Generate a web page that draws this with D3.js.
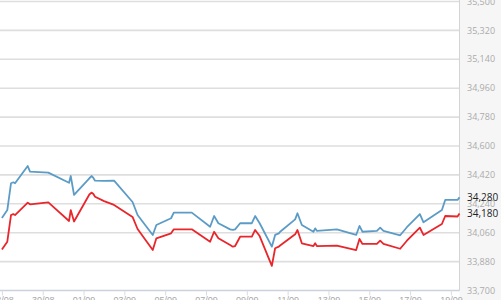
<!DOCTYPE html>
<html>
<head>
<meta charset="utf-8">
<script src="https://cdn.jsdelivr.net/npm/d3@7"></script>
<style>
  html, body { margin: 0; padding: 0; background: #fff; }
  svg { display: block; font-family: "Open Sans", sans-serif; }
</style>
</head>
<body>
<svg id="chart"></svg>
<script>
// time stamps (dd/mm HH:MM, 2015)
const times = [
  "28/08 00:00", "28/08 06:20", "28/08 10:42", "28/08 13:25", "28/08 15:25",
  "29/08 06:21", "29/08 09:04", "30/08 06:35", "31/08 06:56", "31/08 08:56",
  "31/08 12:49", "01/09 06:49", "01/09 09:38", "01/09 11:32", "01/09 13:32",
  "02/09 00:07", "02/09 11:53", "03/09 09:38", "03/09 15:32", "04/09 09:24",
  "04/09 13:38", "05/09 06:56", "05/09 10:07", "06/09 07:18", "07/09 04:50",
  "07/09 09:32", "07/09 14:35", "08/09 04:22", "08/09 07:32", "08/09 10:14",
  "08/09 16:07", "09/09 05:55", "09/09 09:48", "09/09 15:05", "10/09 05:25",
  "10/09 09:18", "10/09 13:38", "10/09 15:10", "11/09 08:50", "11/09 11:32",
  "11/09 16:42", "12/09 06:21", "12/09 08:21", "12/09 10:21", "13/09 09:56",
  "14/09 08:35", "14/09 12:28", "14/09 16:00", "15/09 08:56", "15/09 12:49",
  "15/09 16:42", "16/09 12:18", "16/09 20:14", "17/09 11:30", "17/09 15:46",
  "18/09 13:25", "18/09 17:18", "19/09 07:48", "19/09 10:06"
];

// upper (blue) series
const askValues = [
  34152, 34201, 34368, 34374, 34368,
  34475, 34440, 34434, 34371, 34413,
  34295, 34399, 34413, 34401, 34384,
  34383, 34384, 34251, 34170, 34046,
  34108, 34150, 34185, 34185, 34097,
  34164, 34119, 34081, 34077, 34081,
  34119, 34119, 34164, 34119, 33973,
  34046, 34056, 34066, 34143, 34181,
  34108, 34066, 34087, 34072, 34081,
  34046, 34102, 34066, 34071, 34091,
  34071, 34044, 34094, 34176, 34125,
  34201, 34264, 34264, 34280
];

// lower (red) series
const bidValues = [
  33955, 34004, 34170, 34176, 34170,
  34247, 34237, 34249, 34133, 34201,
  34130, 34298, 34310, 34301, 34284,
  34257, 34233, 34158, 34083, 33952,
  34025, 34056, 34081, 34081, 34004,
  34066, 34025, 33983, 33973, 33977,
  34035, 34035, 34077, 34039, 33853,
  33963, 33973, 33980, 34050, 34077,
  33994, 33977, 33994, 33977, 33980,
  33952, 34021, 33990, 33990, 34010,
  33990, 33960, 34010, 34091, 34046,
  34114, 34164, 34161, 34180
];

const yTicks = [33700, 33880, 34060, 34240, 34420, 34600, 34780, 34960, 35140, 35320, 35500];
const xTickLabels = ["28/08", "30/08", "01/09", "03/09", "05/09", "07/09", "09/09",
  "11/09", "13/09", "15/09", "17/09", "19/09"];

const width = 501, height = 300;
const plotRight = 459.5, plotTop = 1.5, plotBottom = 290.5;

const parseTime = d3.timeParse("%d/%m/%Y %H:%M");
const parseDay = d3.timeParse("%d/%m/%Y");
const fmt = d3.format(",");

const dates = times.map(t => {
  const [d, h] = t.split(" ");
  return parseTime(d + "/2015 " + h);
});
const tickDates = xTickLabels.map(d => parseDay(d + "/2015"));

const svg = d3.select("#chart")
  .attr("width", width)
  .attr("height", height);

const x = d3.scaleTime()
  .domain([parseTime("27/08/2015 21:45"), dates[dates.length - 1]])
  .range([0, plotRight]);

const y = d3.scaleLinear()
  .domain([yTicks[0], yTicks[yTicks.length - 1]])
  .range([plotBottom, plotTop]);

// axis label panel
svg.append("rect")
  .attr("x", plotRight)
  .attr("y", 0)
  .attr("width", width - plotRight)
  .attr("height", height)
  .attr("fill", "#f6f6f6");

// grid lines
svg.append("g")
  .attr("class", "grid")
  .selectAll("line")
  .data(yTicks.slice(1))
  .enter()
  .append("line")
  .attr("x1", 0)
  .attr("x2", plotRight)
  .attr("y1", d => y(d))
  .attr("y2", d => y(d))
  .attr("stroke", "#dedede")
  .attr("stroke-width", 1.6);

// right border
svg.append("line")
  .attr("x1", plotRight).attr("x2", plotRight)
  .attr("y1", 0).attr("y2", plotBottom)
  .attr("stroke", "#d4d4d4")
  .attr("stroke-width", 1);

// x axis
const xAxis = svg.append("g")
  .attr("class", "axis axis-x")
  .attr("transform", "translate(0," + plotBottom + ")")
  .call(d3.axisBottom(x)
    .tickValues(tickDates)
    .tickSize(5)
    .tickSizeOuter(0)
    .tickFormat(d3.timeFormat("%d/%m")));

xAxis.select(".domain")
  .attr("stroke", "#c9d1dc")
  .attr("stroke-width", 1.5)
  .attr("d", "M0,0H" + plotRight);
xAxis.selectAll(".tick line").attr("stroke", "#d8dde4");
xAxis.selectAll(".tick text")
  .attr("fill", "#a8a8a8")
  .attr("font-size", "9px")
  .attr("y", 6)
  .attr("dy", "0.71em");

// y axis labels on the right
svg.append("g")
  .attr("class", "axis axis-y")
  .selectAll("text")
  .data(yTicks)
  .enter()
  .append("text")
  .attr("x", 467)
  .attr("y", d => y(d))
  .attr("dy", "0.35em")
  .attr("fill", "#ababab")
  .attr("font-size", "9px")
  .text(d => fmt(d));

// lines
const line = values => d3.line()
  .x((d, i) => x(dates[i]))
  .y(d => y(d))(values);

svg.append("path")
  .attr("class", "line-ask")
  .attr("d", line(askValues))
  .attr("fill", "none")
  .attr("stroke", "#5b9cc7")
  .attr("stroke-width", 1.8)
  .attr("stroke-linejoin", "round");

svg.append("path")
  .attr("class", "line-bid")
  .attr("d", line(bidValues))
  .attr("fill", "none")
  .attr("stroke", "#e8262b")
  .attr("stroke-width", 1.8)
  .attr("stroke-linejoin", "round");

// last value labels
const lastLabels = [askValues[askValues.length - 1], bidValues[bidValues.length - 1]];
svg.append("g")
  .attr("class", "last-values")
  .selectAll("text")
  .data(lastLabels)
  .enter()
  .append("text")
  .attr("x", 467)
  .attr("y", d => y(d))
  .attr("dy", "0.35em")
  .attr("fill", "#222")
  .attr("font-size", "10px")
  .text(d => fmt(d));
</script>
</body>
</html>
